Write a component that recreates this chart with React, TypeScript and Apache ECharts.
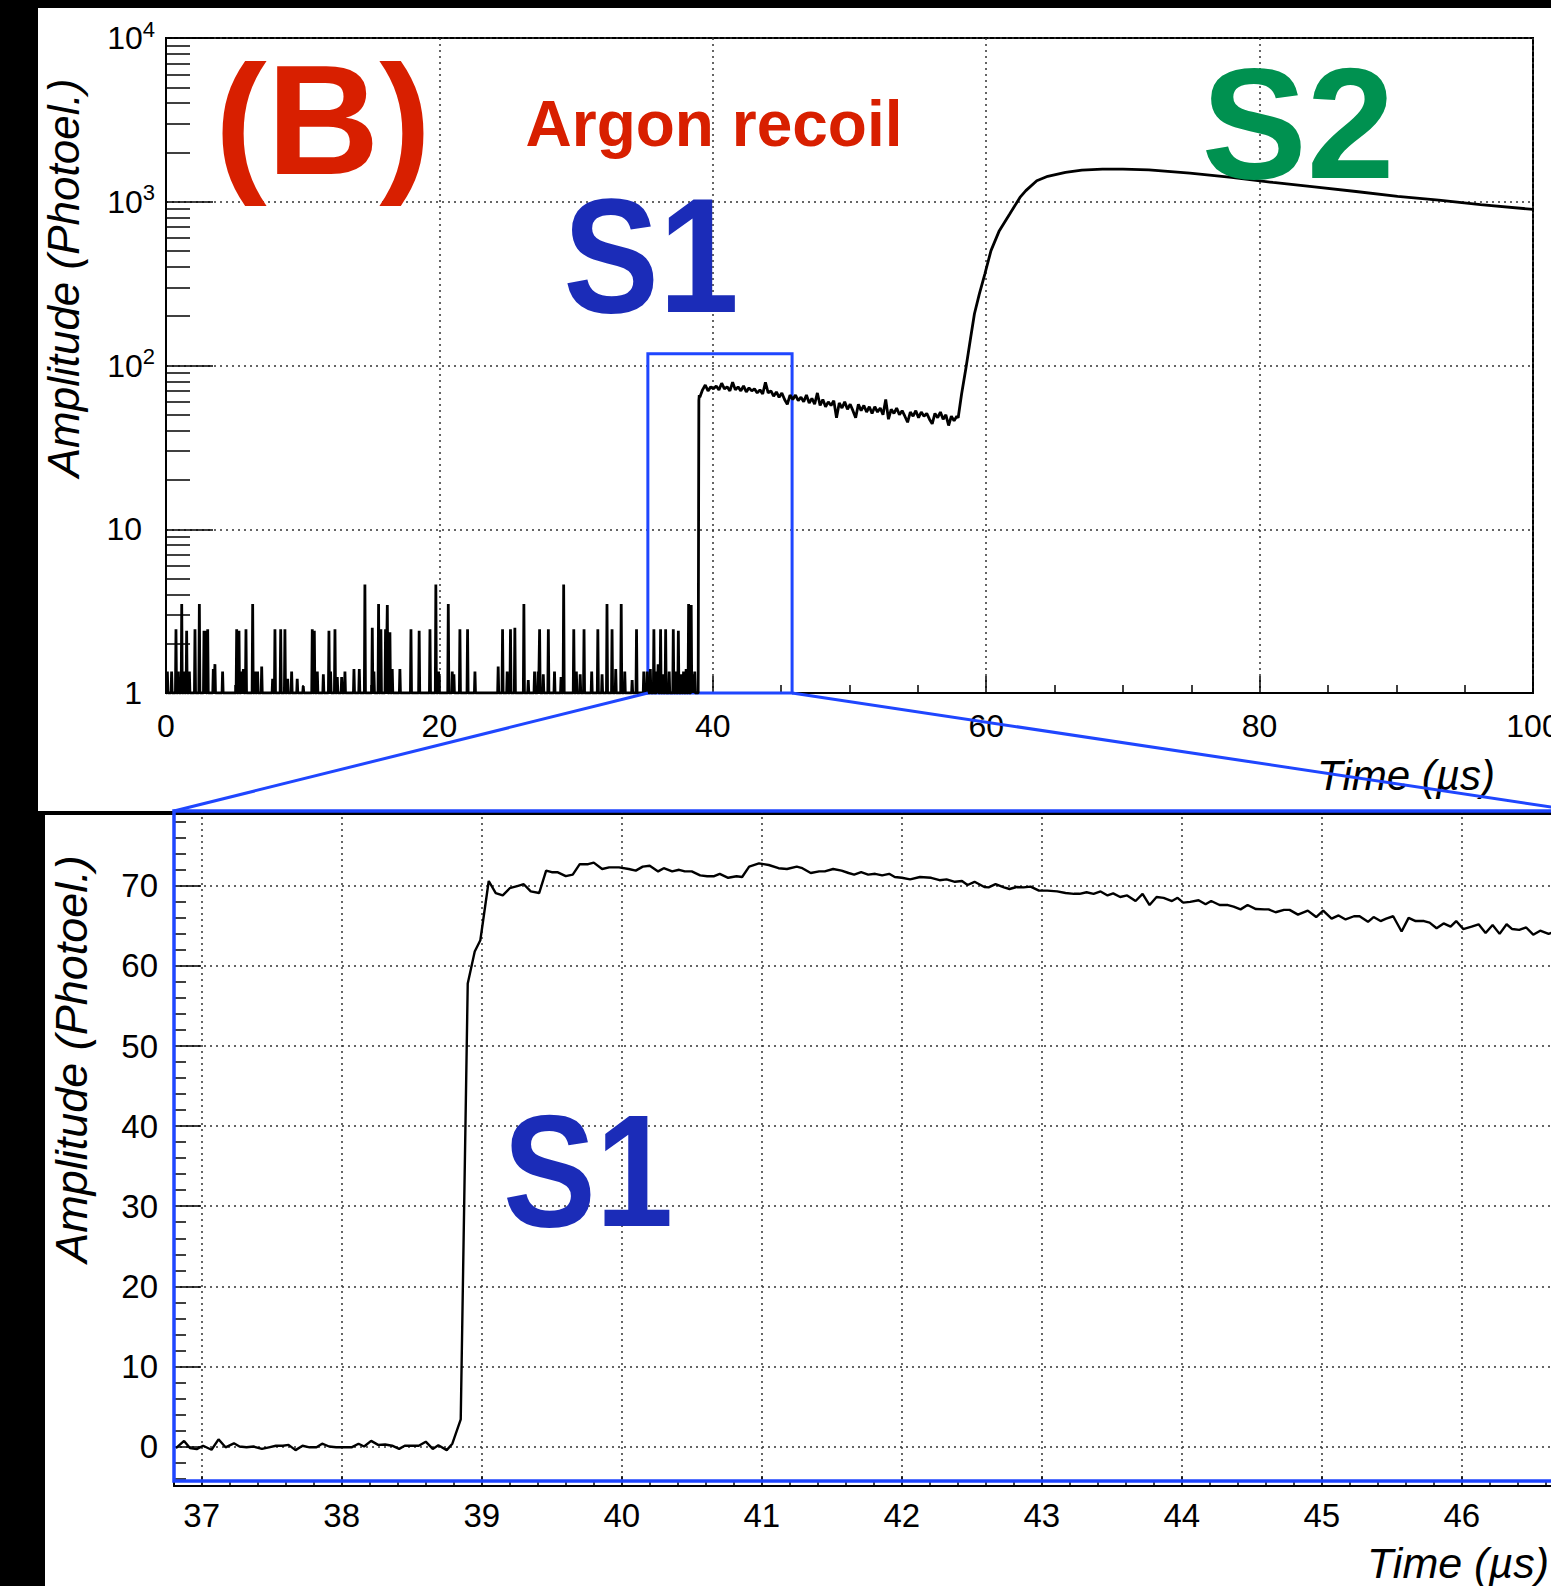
import React, { useEffect, useRef } from "react";
import * as echarts from "echarts";

const FONT = "'Liberation Sans', Arial, Helvetica, sans-serif";
const BLUE = "#1f46ff";
const RED = "#d81f00";
const GREEN = "#009150";
const DEEP_BLUE = "#1b2cb8";

// ---------- Overview waveform (log scale, 0-100 us) ----------
// Single-photoelectron pulses in the pre-trigger region: [time us, amplitude]
const noiseSpikes: [number, number][] = [
  [0.10, 1.35], [0.41, 1.35], [0.73, 2.45], [0.90, 1.35], [1.15, 3.5], [1.32, 1.35], [1.51, 2.4], [1.71, 1.35],
  [2.12, 2.45], [2.44, 3.5], [2.78, 2.4], [2.90, 2.4], [3.05, 2.45], [3.46, 1.4], [3.58, 1.5], [4.14, 1.35],
  [5.17, 2.45], [5.34, 2.4], [5.53, 1.35], [5.66, 1.4], [5.85, 2.45], [6.34, 3.5], [6.51, 1.35], [6.70, 1.35],
  [7.00, 1.45], [7.80, 1.22], [7.97, 2.45], [8.39, 2.45], [8.70, 2.45], [8.90, 1.22], [9.19, 1.35], [9.60, 1.22],
  [10.04, 1.1], [10.70, 2.45], [10.85, 2.4], [11.07, 1.35], [11.51, 1.3], [11.92, 2.4], [12.04, 1.35], [12.36, 2.45],
  [12.53, 1.25], [12.85, 1.25], [13.09, 1.35], [13.75, 1.4], [14.14, 1.4], [14.55, 4.6], [15.09, 2.5], [15.21, 1.35],
  [15.55, 3.5], [15.72, 2.45], [16.06, 2.45], [16.19, 3.45], [16.38, 2.35], [16.55, 1.4], [17.11, 1.4], [17.92, 2.45],
  [18.52, 2.4], [19.31, 2.45], [19.74, 4.6], [19.94, 1.35], [20.65, 3.5], [20.94, 1.35], [21.06, 1.3], [21.50, 2.45],
  [22.06, 2.45], [22.60, 1.35], [24.30, 1.45], [24.62, 2.45], [24.96, 1.35], [25.20, 2.45], [25.52, 2.5], [26.18, 3.5],
  [26.50, 1.2], [26.96, 1.35], [27.22, 1.35], [27.33, 2.45], [27.60, 1.3], [27.97, 2.45], [28.42, 1.35], [28.90, 1.25],
  [29.09, 4.6], [29.83, 2.45], [30.02, 1.35], [30.30, 1.3], [30.58, 2.45], [31.14, 1.35], [31.59, 2.45], [31.90, 1.3],
  [32.26, 3.5], [32.63, 2.45], [32.90, 1.4], [33.30, 3.5], [33.56, 1.35], [34.10, 1.2], [34.42, 2.45], [34.95, 1.35],
  [35.20, 1.35], [35.43, 1.4], [35.69, 2.45], [35.91, 1.35], [36.00, 1.5], [36.18, 2.45], [36.35, 1.3], [36.55, 2.45],
  [36.81, 1.35], [37.11, 2.45], [37.30, 1.35], [37.48, 2.4], [37.70, 1.3], [37.86, 1.35], [38.05, 1.4], [38.23, 3.5],
  [38.42, 3.45], [38.55, 1.3], [38.68, 1.35],
];
const spikeHalfWidth = 0.04;
const baselineLevel = 1;

// S1 leading edge
const s1Rise: [number, number][] = [[38.93, 1], [38.98, 61], [39.01, 66]];

// S1 / drift plateau, sampled every 0.2 us from 39.05 us
const plateauStart = 39.05;
const plateauStep = 0.2;
const plateauValues = [
  64, 71, 76, 70, 74, 72, 75, 71, 78, 72, 74, 70, 79, 71, 74, 70, 75, 69, 73, 70,
  72, 68, 71, 67, 79, 68, 70, 65, 69, 64, 68, 62, 58, 66, 62, 66, 61, 64, 60, 66,
  59, 63, 58, 68, 57, 62, 56, 60, 57, 61, 48, 59, 55, 60, 54, 58, 53, 48, 58, 53,
  57, 52, 56, 51, 56, 52, 55, 50, 62, 47, 54, 51, 55, 50, 53, 49, 45, 52, 49, 53,
  48, 52, 49, 51, 47, 44, 51, 48, 52, 47, 50, 43, 49, 46, 49,
];

// S2 electroluminescence pulse
const s2Trace: [number, number][] = [
  [57.95, 48], [58.2, 67], [58.53, 98], [58.83, 142], [59.14, 207], [59.5, 274], [59.9, 362], [60.35, 503],
  [60.96, 666], [61.72, 841], [62.47, 1063], [62.9, 1170], [63.7, 1343], [64.5, 1430], [65.8, 1510], [67.0, 1560],
  [68.5, 1583], [70.0, 1580], [71.9, 1567], [74.9, 1496], [77.95, 1407], [80.98, 1312], [84.0, 1234], [87.05, 1155],
  [90.1, 1077], [93.1, 1024], [96.16, 959], [100, 898],
];

// Highlighted window on the overview: time range and amplitude range
const zoomWindow = { t0: 35.25, t1: 45.8, a0: 1, a1: 118 };

// Log axis decades and minor tick mantissas
const logDecades = [1, 10, 100, 1000];
const logMantissas = [2, 3, 4, 5, 6, 7, 8, 9];

// ---------- Zoomed waveform (linear, 36.8-46.8 us) ----------
const zoomTrace: [number, number][] = [
  [36.816, -0.2], [36.874, 0.7], [36.916, -0.2], [36.964, -0.33], [37.01, 0.1], [37.07, -0.4], [37.12, 0.9], [37.17, -0.1],
  [37.23, 0.4], [37.27, 0], [37.32, -0.1], [37.37, 0], [37.43, -0.3], [37.48, -0.1], [37.53, 0.1], [37.58, 0.1],
  [37.62, 0.2], [37.67, -0.45], [37.72, 0.1], [37.77, -0.1], [37.82, -0.1], [37.86, 0.35], [37.91, 0], [37.96, -0.1],
  [38.02, -0.1], [38.07, -0.1], [38.12, 0.35], [38.16, 0], [38.21, 0.7], [38.26, 0.2], [38.31, 0.25], [38.36, 0.1],
  [38.41, -0.3], [38.45, 0.1], [38.5, 0.1], [38.55, 0.1], [38.6, 0.6], [38.65, -0.3], [38.69, 0.15], [38.75, -0.45],
  [38.79, 0.35], [38.85, 3.4], [38.9, 57.8], [38.95, 61.8], [38.99, 63.2], [39.05, 70.6], [39.1, 69.1], [39.15, 68.8],
  [39.2, 69.7], [39.26, 70.0], [39.3, 70.2], [39.35, 69.3], [39.41, 69.1], [39.46, 71.9], [39.5, 71.7], [39.54, 71.7],
  [39.6, 71.2], [39.65, 71.4], [39.7, 72.7], [39.76, 72.7], [39.8, 72.9], [39.86, 72.1], [39.91, 72.3], [39.98, 72.3],
  [40.05, 72.1], [40.1, 71.9], [40.15, 72.4], [40.2, 72.5], [40.26, 71.8], [40.3, 72.2], [40.36, 71.8], [40.41, 72.0],
  [40.45, 71.8], [40.5, 71.8], [40.56, 71.3], [40.61, 71.2], [40.66, 71.2], [40.7, 71.5], [40.76, 71.0], [40.82, 71.2],
  [40.86, 71.1], [40.91, 72.4], [40.98, 72.8], [41.05, 72.6], [41.12, 72.2], [41.18, 72.1], [41.25, 72.4], [41.29, 72.2],
  [41.35, 71.6], [41.41, 71.8], [41.45, 71.8], [41.51, 72.1], [41.57, 71.9], [41.62, 71.6], [41.66, 71.4], [41.71, 71.7],
  [41.76, 71.4], [41.81, 71.5], [41.86, 71.3], [41.91, 71.5], [41.95, 71.1], [42.0, 71.0], [42.06, 70.8], [42.13, 71.1],
  [42.21, 71.0], [42.27, 70.7], [42.32, 70.8], [42.38, 70.5], [42.43, 70.6], [42.47, 70.1], [42.52, 70.5], [42.59, 69.85],
  [42.62, 69.8], [42.67, 70.2], [42.73, 69.8], [42.77, 69.6], [42.82, 69.85], [42.87, 69.8], [42.92, 69.9], [42.98, 69.4],
  [43.04, 69.4], [43.11, 69.3], [43.17, 69.1], [43.23, 69.0], [43.27, 69.0], [43.32, 69.2], [43.37, 69.0], [43.42, 69.3],
  [43.47, 68.8], [43.51, 69.05], [43.56, 68.6], [43.61, 68.8], [43.67, 68.1], [43.72, 69.0], [43.77, 67.6], [43.82, 68.6],
  [43.87, 68.5], [43.93, 68.1], [43.97, 68.5], [44.01, 67.9], [44.06, 68.0], [44.12, 68.2], [44.17, 67.7], [44.21, 68.1],
  [44.27, 67.6], [44.33, 67.6], [44.37, 67.4], [44.42, 67.06], [44.47, 67.6], [44.53, 67.1], [44.59, 67.06], [44.62, 67.06],
  [44.67, 66.7], [44.73, 67.0], [44.77, 67.0], [44.83, 66.4], [44.9, 66.9], [44.96, 66.1], [45.01, 66.9], [45.07, 65.9],
  [45.12, 66.3], [45.17, 65.8], [45.23, 66.2], [45.27, 66.2], [45.33, 65.5], [45.37, 66.1], [45.42, 65.6], [45.46, 65.9],
  [45.51, 66.2], [45.57, 64.3], [45.62, 66.0], [45.67, 65.6], [45.73, 65.6], [45.77, 65.4], [45.82, 64.7], [45.87, 65.3],
  [45.92, 64.9], [45.96, 65.6], [46.01, 64.6], [46.07, 64.9], [46.12, 65.2], [46.17, 64.1], [46.22, 65.1], [46.27, 64.0],
  [46.32, 65.2], [46.36, 64.6], [46.41, 64.5], [46.46, 64.8], [46.51, 63.9], [46.56, 64.4], [46.62, 64.0], [46.67, 64.3],
  [46.72, 63.8], [46.77, 64.1], [46.82, 63.7],
];
const zoomX = { min: 36.802, max: 46.83 };
const zoomY = { min: -4.93, max: 79.34 };
const zoomFrameFloor = -4.3;

// ---------- derived series data ----------
const noisePoints: [number, number][] = [[0, baselineLevel]];
for (const [t, a] of noiseSpikes) {
  noisePoints.push([t - spikeHalfWidth, baselineLevel], [t, a], [t + spikeHalfWidth, baselineLevel]);
}
const plateauPoints: [number, number][] = plateauValues.map((v, i) => [
  +(plateauStart + i * plateauStep).toFixed(3),
  v,
]);
const overviewTrace: [number, number][] = [...noisePoints, ...s1Rise, ...plateauPoints, ...s2Trace];
const logMinorTicks = logDecades.flatMap((d) => logMantissas.map((m) => m * d));

const dotted = { color: "#333", type: [2, 4] as number[], width: 1.5 };
const black = (w: number) => ({ color: "#000", width: w });

const logLabel = (v: number) => {
  const e = Math.round(Math.log10(v));
  if (e === 0) return "{p|1}";
  if (e === 1) return "{p|10}";
  return `{b|10}{s|${e}}`;
};
const wholeLabel = (step: number) => (v: number) => {
  const r = Math.round(v / step) * step;
  return Math.abs(v - r) < 1e-6 ? String(r) : "";
};

function buildOption(): echarts.EChartsOption {
  return {
    animation: false,
    grid: [
      {
        left: 166, top: 38, width: 1367, height: 655, show: true, borderColor: "#000", borderWidth: 2,
        backgroundColor: "transparent", containLabel: false, outerBoundsMode: "none",
      } as any,
      { left: 174, top: 811, width: 1404, height: 675, containLabel: false, outerBoundsMode: "none" } as any,
    ],
    xAxis: [
      {
        gridIndex: 0, type: "value", min: 0, max: 100, interval: 20,
        axisLine: { onZero: false, lineStyle: black(2) },
        axisTick: { inside: true, length: 17, lineStyle: black(1.5) },
        minorTick: { show: true, splitNumber: 4, length: 8, lineStyle: black(1.5) },
        axisLabel: { fontSize: 32, margin: 17, color: "#000", fontFamily: FONT },
        splitLine: { show: true, lineStyle: dotted },
      },
      {
        gridIndex: 1, type: "value", min: zoomX.min, max: zoomX.max, splitNumber: 10,
        axisLine: { onZero: false, lineStyle: black(2) },
        axisTick: { inside: true, length: 10, lineStyle: black(1.5) },
        minorTick: { show: true, splitNumber: 5, length: 5, lineStyle: black(1.5) },
        axisLabel: { fontSize: 33, margin: 13, color: "#000", fontFamily: FONT, formatter: wholeLabel(1) },
        splitLine: { show: true, lineStyle: dotted },
      },
    ],
    yAxis: [
      {
        gridIndex: 0, type: "log", logBase: 10, min: 1, max: 10000, splitNumber: 5,
        axisLine: { onZero: false, lineStyle: black(2) },
        axisTick: { inside: true, length: 47, lineStyle: black(1.5) },
        axisLabel: {
          margin: 11,
          formatter: logLabel,
          rich: {
            p: { fontSize: 32, fontFamily: FONT, color: "#000", padding: [0, 13, 0, 0] },
            b: { fontSize: 32, fontFamily: FONT, color: "#000" },
            s: { fontSize: 22, fontFamily: FONT, color: "#000", padding: [0, 0, 18, 0] },
          },
        },
        splitLine: { show: true, lineStyle: dotted },
      },
      {
        gridIndex: 0, type: "log", logBase: 10, min: 1, max: 10000, position: "left",
        axisLine: { show: false, onZero: false },
        axisLabel: { show: false },
        splitLine: { show: false },
        axisTick: { show: true, inside: true, length: 24, customValues: logMinorTicks, lineStyle: black(1.5) } as any,
      },
      {
        gridIndex: 1, type: "value", min: zoomY.min, max: zoomY.max, splitNumber: 8,
        axisLine: { onZero: false, lineStyle: black(2) },
        axisTick: { inside: true, length: 27, lineStyle: black(1.5) },
        minorTick: { show: true, splitNumber: 5, length: 12, lineStyle: black(1.5) },
        axisLabel: { fontSize: 33, margin: 16, color: "#000", fontFamily: FONT, formatter: wholeLabel(10) },
        splitLine: { show: true, lineStyle: dotted },
      },
    ],
    series: [
      {
        type: "line", xAxisIndex: 0, yAxisIndex: 0, data: overviewTrace,
        symbol: "none", lineStyle: { color: "#000", width: 2.8 }, z: 3,
        markArea: {
          silent: true,
          itemStyle: { color: "rgba(0,0,0,0)", borderColor: BLUE, borderWidth: 3 },
          data: [[{ coord: [zoomWindow.t0, zoomWindow.a0] }, { coord: [zoomWindow.t1, zoomWindow.a1] }]] as any,
        },
      },
      {
        type: "line", xAxisIndex: 1, yAxisIndex: 2, data: zoomTrace,
        symbol: "none", lineStyle: { color: "#000", width: 2.4 }, z: 3,
      },
    ],
  };
}

function label(id: string, text: string, x: number, y: number, size: number, color: string, opts: any = {}) {
  return {
    type: "text", id, x, y, z: 60, silent: true, rotation: opts.rotation || 0,
    scaleX: opts.scaleX || 1,
    style: {
      text, fill: color, fontSize: size, fontFamily: FONT,
      fontWeight: opts.bold ? "bold" : "normal", fontStyle: opts.italic ? "italic" : "normal",
      align: "center", verticalAlign: "middle",
    },
  };
}

export default function App() {
  const ref = useRef<HTMLDivElement>(null);
  useEffect(() => {
    const el = ref.current!;
    const chart = echarts.init(el, null, { renderer: "svg" });
    chart.setOption(buildOption());

    const boxL = chart.convertToPixel({ xAxisIndex: 0, yAxisIndex: 0 }, [zoomWindow.t0, zoomWindow.a0]) as number[];
    const boxR = chart.convertToPixel({ xAxisIndex: 0, yAxisIndex: 0 }, [zoomWindow.t1, zoomWindow.a0]) as number[];
    const zTL = chart.convertToPixel({ xAxisIndex: 1, yAxisIndex: 2 }, [zoomX.min, zoomY.max]) as number[];
    const zTR = chart.convertToPixel({ xAxisIndex: 1, yAxisIndex: 2 }, [zoomX.max, zoomY.max]) as number[];
    const zBL = chart.convertToPixel({ xAxisIndex: 1, yAxisIndex: 2 }, [zoomX.min, zoomFrameFloor]) as number[];

    chart.setOption({
      graphic: {
        elements: [
          { type: "rect", id: "panelTop", z: -10, silent: true, shape: { x: 38, y: 8, width: 1600, height: 803 }, style: { fill: "#fff" } },
          { type: "rect", id: "panelBottom", z: -10, silent: true, shape: { x: 45, y: 815, width: 1600, height: 800 }, style: { fill: "#fff" } },
          label("tagB", "(B)", 323, 120, 156, RED, { bold: true }),
          label("argon", "Argon recoil", 714, 124, 64, RED, { bold: true }),
          label("s1Top", "S1", 651, 256, 164, DEEP_BLUE, { bold: true, scaleX: 0.875 }),
          label("s2Top", "S2", 1298, 123, 158, GREEN, { bold: true }),
          label("s1Bottom", "S1", 588, 1171, 160, DEEP_BLUE, { bold: true, scaleX: 0.87 }),
          label("yTitleTop", "Amplitude (Photoel.)", 63, 278, 44, "#000", { italic: true, rotation: Math.PI / 2 }),
          label("yTitleBottom", "Amplitude (Photoel.)", 71, 1059, 45, "#000", { italic: true, rotation: Math.PI / 2 }),
          label("xTitleTop", "Time (\u00b5s)", 1406, 775, 42, "#000", { italic: true }),
          label("xTitleBottom", "Time (\u00b5s)", 1458, 1563, 43, "#000", { italic: true }),
          {
            type: "rect", id: "zoomFrame", z: 70, silent: true,
            shape: { x: zTL[0], y: zTL[1], width: zTR[0] - zTL[0], height: zBL[1] - zTL[1] },
            style: { fill: "none", stroke: BLUE, lineWidth: 3.5 },
          },
          {
            type: "line", id: "linkLeft", z: 70, silent: true,
            shape: { x1: boxL[0], y1: boxL[1], x2: zTL[0], y2: zTL[1] },
            style: { stroke: BLUE, lineWidth: 3 },
          },
          {
            type: "line", id: "linkRight", z: 70, silent: true,
            shape: { x1: boxR[0], y1: boxR[1], x2: zTR[0], y2: zTR[1] },
            style: { stroke: BLUE, lineWidth: 3 },
          },
        ],
      },
    } as any);

    return () => chart.dispose();
  }, []);
  return (
    <div
      ref={ref}
      style={{ position: "fixed", left: 0, top: 0, width: 1551, height: 1586, background: "#000" }}
    />
  );
}
